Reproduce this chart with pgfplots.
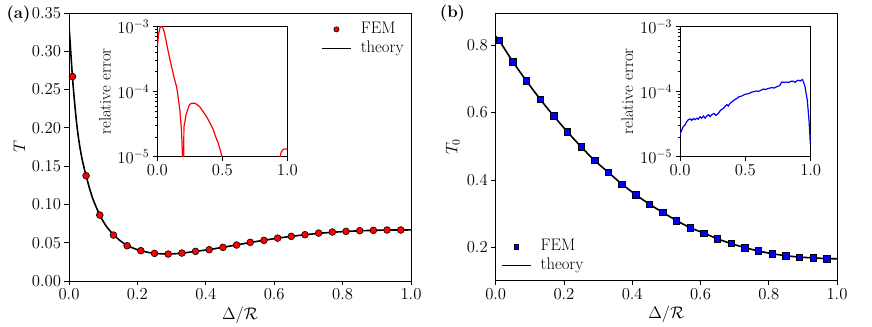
\RequirePackage{fix-cm}
\documentclass[border=0pt]{standalone}
\usepackage{fontspec}
\usepackage{pgfplots}
\pgfplotsset{compat=1.18}

\newcommand\figfont{\fontsize{16.7bp}{19bp}\selectfont}

\pgfplotsset{
  mplbase/.style={
    scale only axis,
    axis line style={black, line width=0.8bp},
    every tick/.style={black, line width=0.8bp},
    tick align=outside,
    major tick length=4.5bp,
    minor tick length=2.5bp,
    xtick pos=bottom, ytick pos=left,
    tick label style={font=\figfont},
    label style={font=\figfont},
    legend cell align=left,
    legend style={draw=none, fill=none, font=\figfont, row sep=2bp, column sep=8bp,
      inner sep=1bp, nodes={inner sep=1bp, text height=11.5bp, text depth=3.5bp}},
    clip=true,
  },
  xfmt/.style={xticklabel style={/pgf/number format/.cd, fixed, fixed zerofill, precision=1}},
  legline/.style={legend image code/.code={\draw[##1, black, line width=1.6bp] (0bp,0bp) -- (29bp,0bp);}},
  legmark/.style={legend image code/.code={\draw[mark repeat=2,mark phase=2,##1,mark size=#1] plot coordinates {(0bp,0bp) (14.5bp,0bp) (29bp,0bp)};}},
}

\begin{document}
\begin{tikzpicture}[font=\figfont]
\useasboundingbox (0,0) rectangle (872bp,327bp);

% ---------- panel (a) ----------
\begin{axis}[mplbase, xfmt,
  at={(69bp,46bp)}, anchor=south west,
  width=342bp, height=268bp,
  xmin=0, xmax=1, ymin=0, ymax=0.35,
  xtick={0,0.2,...,1.0}, ytick={0,0.05,...,0.35},
  yticklabel style={/pgf/number format/.cd, fixed, fixed zerofill, precision=2},
  xlabel={$\Delta/\mathcal{R}$}, ylabel={$T$},
  legend style={at={(axis description cs:0.985,0.975)}, anchor=north east},
]
\addplot[black, line width=1.6bp, smooth, forget plot] coordinates {
  (0.000,0.334) (0.005,0.300) (0.010,0.267) (0.015,0.240) (0.020,0.216)
  (0.025,0.196) (0.030,0.180) (0.037,0.162) (0.045,0.146) (0.050,0.1375)
  (0.060,0.121) (0.070,0.107) (0.080,0.096) (0.090,0.0861) (0.100,0.078)
  (0.110,0.071) (0.120,0.0655) (0.130,0.0605) (0.150,0.0525) (0.170,0.0465)
  (0.190,0.0425) (0.210,0.0396) (0.230,0.0375) (0.250,0.0362) (0.270,0.0355)
  (0.290,0.0352) (0.310,0.0356) (0.330,0.0364) (0.350,0.0375) (0.370,0.0387)
  (0.410,0.0411) (0.450,0.0440) (0.490,0.0471) (0.530,0.0503) (0.570,0.0532)
  (0.610,0.0559) (0.650,0.0583) (0.690,0.0604) (0.730,0.0622) (0.770,0.0636)
  (0.810,0.0647) (0.850,0.0656) (0.890,0.0661) (0.930,0.0665) (0.970,0.0666)
  (1.000,0.0667)
};
\addplot[only marks, mark=*, mark size=3.4bp, mark options={fill=red, draw=black, line width=0.6bp},
  legmark=2.6bp]
coordinates {
  (0.01,0.267) (0.05,0.1375) (0.09,0.0861) (0.13,0.060) (0.17,0.0461)
  (0.21,0.0396) (0.25,0.0361) (0.29,0.0352) (0.33,0.0365) (0.37,0.0387)
  (0.41,0.0409) (0.45,0.0439) (0.49,0.047) (0.53,0.0505) (0.57,0.053)
  (0.61,0.056) (0.65,0.0583) (0.69,0.0605) (0.73,0.0626) (0.77,0.064)
  (0.81,0.0648) (0.85,0.0657) (0.89,0.0661) (0.93,0.0666) (0.97,0.0666)
};
\addlegendentry{FEM}
\addlegendimage{black, line width=1.6bp, legline}
\addlegendentry{theory}
\end{axis}

% inset (a)
\begin{axis}[mplbase, xfmt,
  at={(157.3bp,170.3bp)}, anchor=south west,
  width=130bp, height=130.4bp,
  ymode=log, xmin=0, xmax=1, ymin=1e-5, ymax=1e-3,
  xtick={0,0.5,1}, ytick={1e-5,1e-4,1e-3},
  ylabel={relative error},
  axis background/.style={fill=white},
]
\addplot[red, line width=1.2bp] coordinates {
  (0.000,4.8e-4) (0.010,7.6e-4) (0.020,9.4e-4) (0.028,1.0e-3) (0.035,9.9e-4)
  (0.045,9.2e-4) (0.055,8.0e-4) (0.072,5.4e-4) (0.090,3.6e-4) (0.110,2.4e-4)
  (0.130,1.6e-4) (0.149,1.17e-4) (0.160,8.2e-5) (0.174,5.1e-5) (0.182,3.2e-5)
  (0.187,2.3e-5) (0.192,1.3e-5) (0.196,5e-6) (0.200,2e-6) (0.203,1.2e-5)
  (0.205,2.9e-5) (0.212,3.4e-5) (0.220,4.3e-5) (0.231,5.1e-5) (0.245,6.1e-5)
  (0.256,6.5e-5) (0.270,6.6e-5) (0.290,6.6e-5) (0.310,6.2e-5) (0.328,5.8e-5)
  (0.350,5.0e-5) (0.379,4.1e-5) (0.405,3.3e-5) (0.431,2.6e-5) (0.450,2.0e-5)
  (0.469,1.6e-5) (0.485,1.25e-5) (0.500,9.5e-6) (0.520,6e-6) (0.600,2e-6)
  (0.700,1e-6) (0.800,1e-6) (0.900,2.5e-6) (0.935,7e-6) (0.944,1.0e-5)
  (0.955,1.2e-5) (0.969,1.3e-5) (1.000,1.32e-5)
};
\end{axis}

% ---------- panel (b) ----------
\begin{axis}[mplbase, xfmt,
  at={(495.7bp,46.3bp)}, anchor=south west,
  width=341.3bp, height=267.7bp,
  xmin=0, xmax=1, ymin=0.102, ymax=0.895,
  xtick={0,0.2,...,1.0}, ytick={0.2,0.4,0.6,0.8},
  yticklabel style={/pgf/number format/.cd, fixed, fixed zerofill, precision=1},
  xlabel={$\Delta/\mathcal{R}$}, ylabel={$T_0$},
  legend style={at={(axis description cs:0.012,0.02)}, anchor=south west},
]
\addplot[only marks, mark=square*, mark size=3.2bp, mark options={fill=blue, draw=black, line width=0.6bp},
  legmark=2.4bp]
coordinates {
  (0.01,0.814) (0.05,0.751) (0.09,0.694) (0.13,0.640) (0.17,0.590)
  (0.21,0.543) (0.25,0.499) (0.29,0.458) (0.33,0.423) (0.37,0.388)
  (0.41,0.357) (0.45,0.329) (0.49,0.304) (0.53,0.280) (0.57,0.259)
  (0.61,0.243) (0.65,0.226) (0.69,0.212) (0.73,0.200) (0.77,0.190)
  (0.81,0.182) (0.85,0.176) (0.89,0.172) (0.93,0.1695) (0.97,0.1674)
};
\addlegendentry{FEM}
\addplot[black, line width=1.6bp, smooth, legline] coordinates {
  (0.00,0.825) (0.01,0.814) (0.05,0.751) (0.09,0.694) (0.13,0.640)
  (0.17,0.590) (0.21,0.543) (0.25,0.499) (0.29,0.458) (0.33,0.423)
  (0.37,0.388) (0.41,0.357) (0.45,0.329) (0.49,0.304) (0.53,0.280)
  (0.57,0.259) (0.61,0.243) (0.65,0.226) (0.69,0.212) (0.73,0.200)
  (0.77,0.190) (0.81,0.182) (0.85,0.176) (0.89,0.172) (0.93,0.1695)
  (0.97,0.1675) (1.00,0.167)
};
\addlegendentry{theory}
\end{axis}

% inset (b)
\begin{axis}[mplbase, xfmt,
  at={(680bp,170.3bp)}, anchor=south west,
  width=130.7bp, height=130.4bp,
  ymode=log, xmin=0, xmax=1, ymin=1e-5, ymax=1e-3,
  xtick={0,0.5,1}, ytick={1e-5,1e-4,1e-3},
  ylabel={relative error},
  axis background/.style={fill=white},
]
\addplot[blue, line width=1.2bp] coordinates {
  (0.000,2.2e-5) (0.005,2.33e-5) (0.015,2.6e-5) (0.025,2.9e-5) (0.038,3.05e-5)
  (0.050,3.4e-5) (0.064,3.7e-5) (0.080,3.8e-5) (0.090,3.6e-5) (0.102,3.85e-5)
  (0.115,3.7e-5) (0.130,3.9e-5) (0.140,3.75e-5) (0.153,4.1e-5) (0.165,3.9e-5)
  (0.180,4.2e-5) (0.192,3.9e-5) (0.204,4.2e-5) (0.220,4.4e-5) (0.230,4.1e-5)
  (0.242,4.4e-5) (0.260,4.6e-5) (0.275,4.3e-5) (0.293,4.6e-5) (0.305,5.0e-5)
  (0.318,5.3e-5) (0.332,5.5e-5) (0.345,5.9e-5) (0.358,6.3e-5) (0.370,6.0e-5)
  (0.383,6.6e-5) (0.400,7.0e-5) (0.415,7.4e-5) (0.434,7.8e-5) (0.450,8.3e-5)
  (0.465,8.4e-5) (0.485,8.8e-5) (0.500,9.1e-5) (0.520,9.2e-5) (0.536,9.5e-5)
  (0.550,9.8e-5) (0.570,1.00e-4) (0.587,1.02e-4) (0.600,1.00e-4) (0.620,1.05e-4)
  (0.638,1.09e-4) (0.655,1.07e-4) (0.670,1.11e-4) (0.690,1.13e-4) (0.702,1.15e-4)
  (0.720,1.13e-4) (0.740,1.18e-4) (0.753,1.21e-4) (0.765,1.25e-4) (0.778,1.40e-4)
  (0.795,1.38e-4) (0.816,1.40e-4) (0.830,1.37e-4) (0.845,1.43e-4) (0.867,1.44e-4)
  (0.880,1.38e-4) (0.895,1.46e-4) (0.906,1.49e-4) (0.920,1.45e-4) (0.936,1.53e-4)
  (0.945,1.40e-4) (0.957,1.17e-4) (0.966,9.0e-5) (0.974,7.4e-5) (0.981,5.0e-5)
  (0.987,3.6e-5) (0.993,2.3e-5) (0.997,1.56e-5)
};
\end{axis}

\node[font=\figfont\bfseries] at (18.5bp,313bp) {(a)};
\node[font=\figfont\bfseries] at (452.5bp,313.5bp) {(b)};
\end{tikzpicture}
\end{document}
